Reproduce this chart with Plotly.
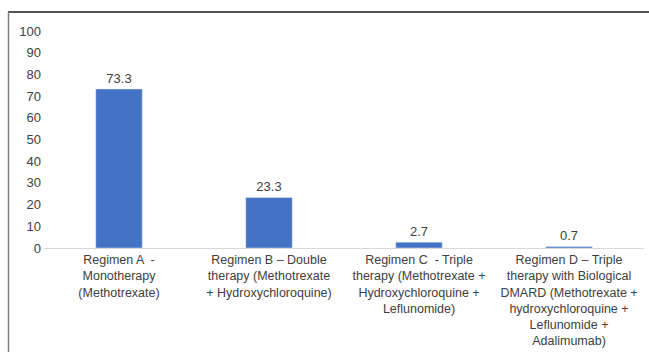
import plotly.graph_objects as go

categories = [
    "Regimen A  -<br>Monotherapy<br>(Methotrexate)",
    "Regimen B – Double<br>therapy (Methotrexate<br>+ Hydroxychloroquine)",
    "Regimen C  - Triple<br>therapy (Methotrexate +<br>Hydroxychloroquine +<br>Leflunomide)",
    "Regimen D – Triple<br>therapy with Biological<br>DMARD (Methotrexate +<br>hydroxychloroquine +<br>Leflunomide +<br>Adalimumab)",
]
values = [73.3, 23.3, 2.7, 0.7]
y_ticks = [0, 10, 20, 30, 40, 50, 60, 70, 80, 90, 100]

W, H = 649, 352
L, R, T, B = 44, 5, 31, 104
pw, ph = W - L - R, H - T - B

def px(x):
    return (x - L) / pw

def py(y):
    return (H - B - y) / ph

fig = go.Figure(go.Bar(
    x=categories, y=values,
    marker_color="#4472C4",
    width=0.31,
    text=[f"{v}" for v in values],
    textposition="outside",
    textfont=dict(size=13, color="#404040"),
    cliponaxis=False,
))

fig.update_layout(
    width=W, height=H,
    margin=dict(l=L, r=R, t=T, b=B, autoexpand=False),
    paper_bgcolor="white", plot_bgcolor="white",
    font=dict(family="Liberation Sans, Arial, sans-serif", size=13, color="#404040"),
    showlegend=False,
    xaxis=dict(showline=True, linecolor="#d9d9d9", linewidth=1, showgrid=False,
               ticks="", tickfont=dict(size=12.5, color="#404040"), tickangle=0,
               automargin=False),
    yaxis=dict(range=[0, 100], tickvals=y_ticks, showgrid=False, zeroline=False,
               showline=False, ticks="", ticklabelstandoff=2, automargin=False,
               tickfont=dict(size=13, color="#404040")),
    shapes=[
        dict(type="line", xref="paper", yref="paper", x0=px(8), x1=px(649), y0=py(12), y1=py(12),
             line=dict(color="#1a1a1a", width=1.5)),
        dict(type="line", xref="paper", yref="paper", x0=px(8.5), x1=px(8.5), y0=py(12), y1=py(352),
             line=dict(color="#7f7f7f", width=1.5)),
    ],
)

fig.write_html("out.html")
